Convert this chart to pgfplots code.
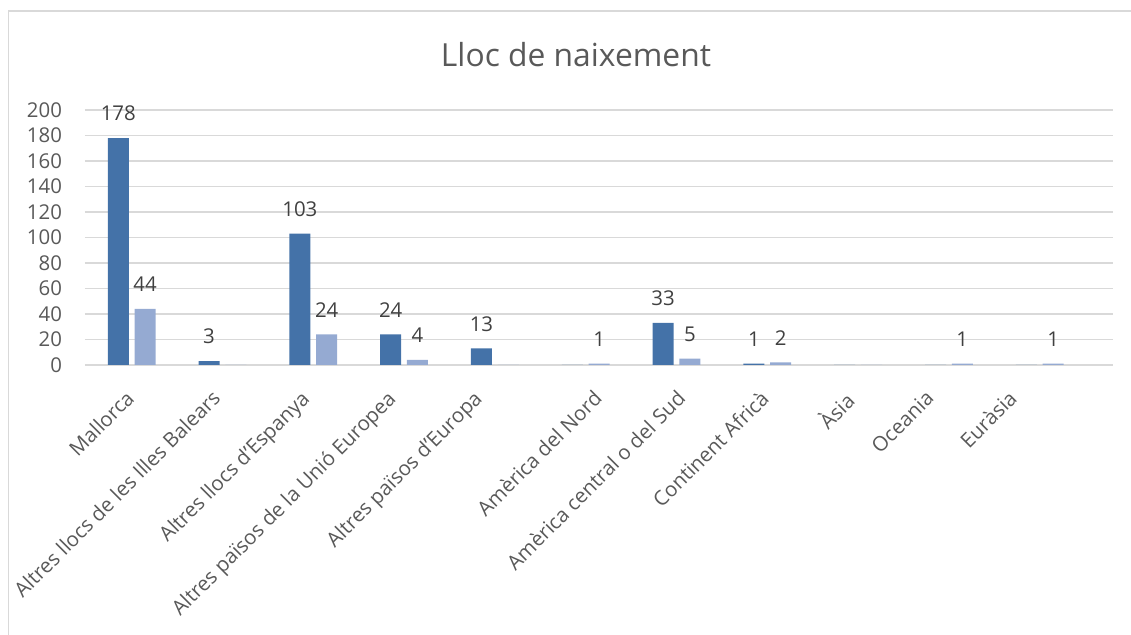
\documentclass[border=0pt]{standalone}
\usepackage{fontspec}
\setmainfont{Open Sans}
\usepackage{pgfplots}
\pgfplotsset{compat=1.18}
\definecolor{barA}{RGB}{68,114,168}
\definecolor{barB}{RGB}{149,170,210}
\definecolor{gridc}{RGB}{217,217,217}
\definecolor{txt}{RGB}{89,89,89}
\definecolor{lbl}{RGB}{64,64,64}
\begin{document}
\begin{tikzpicture}
\path[use as bounding box] (0,0) rectangle (565.5pt,317.5pt);
\draw[gridc, line width=0.8pt] (4.25pt,0) -- (4.25pt,312pt) -- (565.5pt,312pt);
\node[txt, font=\fontsize{15.9}{18}\selectfont] at (288pt,290pt) {Lloc de naixement};
\begin{axis}[
  at={(42.5pt,135pt)}, anchor=south west,
  scale only axis, width=514pt, height=127.5pt,
  ybar=2.9pt, bar width=10.5pt,
  xmin=-0.514, xmax=10.807, ymin=0, ymax=200,
  ytick={0,20,...,200},
  xtick={-0.08,0.87,1.85,2.80,3.75,5.07,5.99,6.91,7.83,8.73,9.64},
  xticklabels={Mallorca,Altres llocs de les Illes Balears,Altres llocs d’Espanya,Altres països de la Unió Europea,Altres països d’Europa,Amèrica del Nord,Amèrica central o del Sud,Continent Africà,Àsia,Oceania,Euràsia},
  ymajorgrids, grid style={gridc, line width=0.8pt},
  axis line style={draw=none},
  tick style={draw=none},
  /pgf/number format/assume math mode=true,
  ticklabel style={font=\fontsize{10.2}{12}\selectfont, text=txt},
  yticklabel style={xshift=-8pt},
  xticklabel style={yshift=-7.5pt, rotate=45, anchor=north east, inner sep=0pt},
  clip=false,
  nodes near coords={\pgfmathfloatifflags{\pgfplotspointmeta}{0}{}{\pgfmathprintnumber{\pgfplotspointmeta}}},
  every node near coord/.append style={font=\fontsize{10.2}{12}\selectfont, text=lbl, yshift=5pt},
]
\addplot[fill=barA, draw=none] coordinates {(0,178) (1,3) (2,103) (3,24) (4,13) (5,0) (6,33) (7,1) (8,0) (9,0) (10,0)};
\addplot[fill=barB, draw=none] coordinates {(0,44) (1,0) (2,24) (3,4) (4,0) (5,1) (6,5) (7,2) (8,0) (9,1) (10,1)};
\end{axis}
\end{tikzpicture}
\end{document}
